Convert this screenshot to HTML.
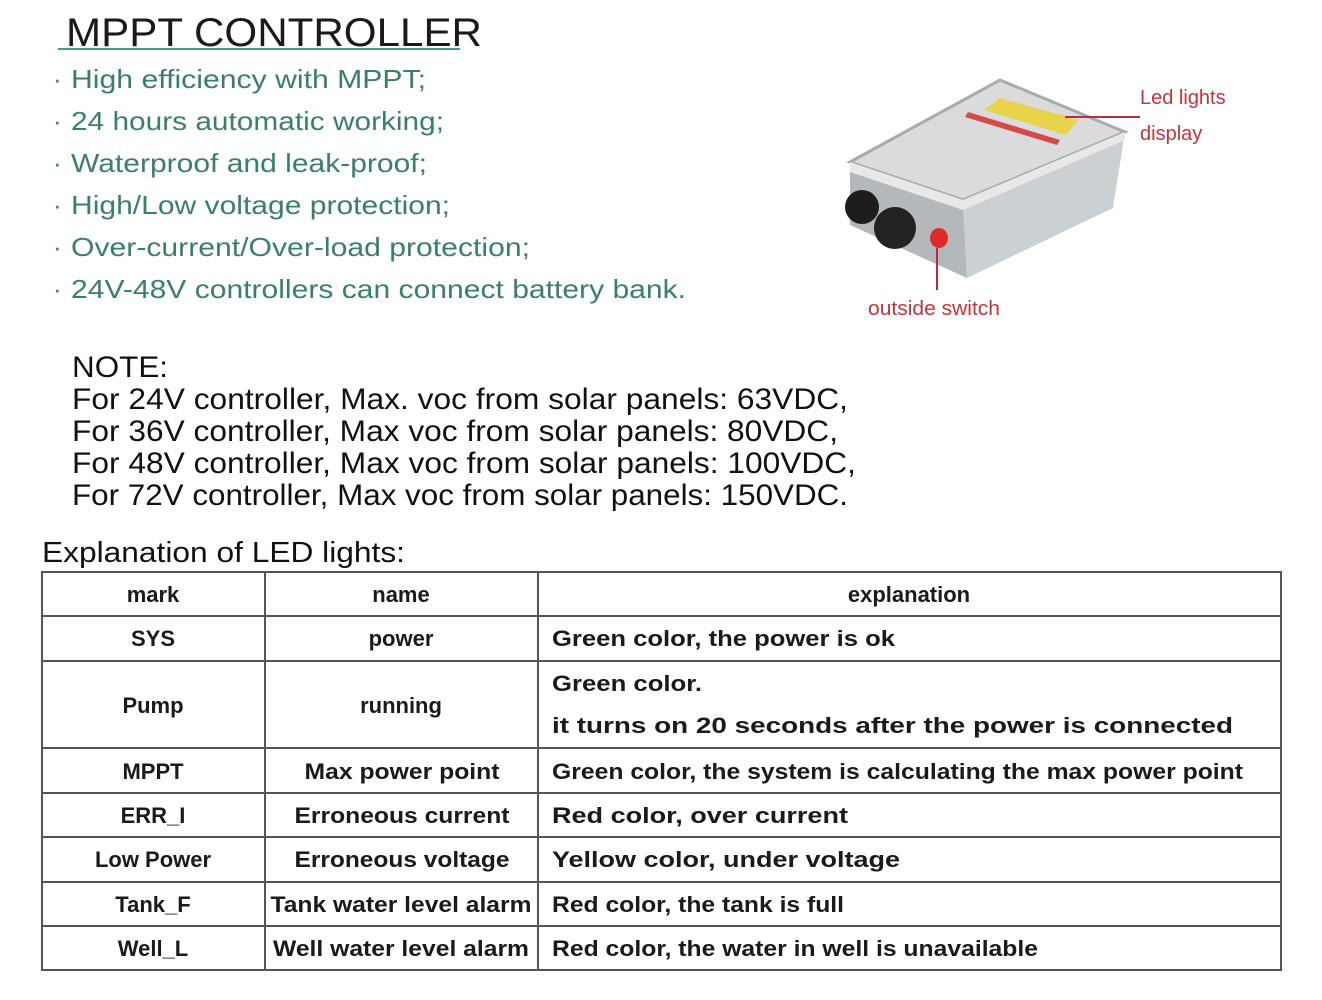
<!DOCTYPE html>
<html><head><meta charset="utf-8"><style>
html,body{margin:0;padding:0;background:#fff;}
svg{display:block;}
text{font-family:"Liberation Sans",Arial,sans-serif;}
.b{fill:#3a7f6e;font-size:26px;}
.n{fill:#111;font-size:30px;}
.t{fill:#1a1a1a;font-size:22px;font-weight:bold;}
.r{fill:#c8323a;font-size:20px;}
</style></head><body>
<svg width="1322" height="1000" viewBox="0 0 1322 1000" xmlns="http://www.w3.org/2000/svg">
<rect width="1322" height="1000" fill="#fff"/>
<text x="66" y="46" font-size="40" fill="#1a1a1a" textLength="416" lengthAdjust="spacingAndGlyphs">MPPT CONTROLLER</text>
<line x1="58" y1="49" x2="460" y2="49" stroke="#4a9a88" stroke-width="2"/>
<g class="b">
<text x="53" y="88">·</text><text x="71" y="88" textLength="355" lengthAdjust="spacingAndGlyphs">High efficiency with MPPT;</text>
<text x="53" y="130">·</text><text x="71" y="130" textLength="373" lengthAdjust="spacingAndGlyphs">24 hours automatic working;</text>
<text x="53" y="172">·</text><text x="71" y="172" textLength="356" lengthAdjust="spacingAndGlyphs">Waterproof and leak-proof;</text>
<text x="53" y="214">·</text><text x="71" y="214" textLength="379" lengthAdjust="spacingAndGlyphs">High/Low voltage protection;</text>
<text x="53" y="256">·</text><text x="71" y="256" textLength="459" lengthAdjust="spacingAndGlyphs">Over-current/Over-load protection;</text>
<text x="53" y="298">·</text><text x="71" y="298" textLength="615" lengthAdjust="spacingAndGlyphs">24V-48V controllers can connect battery bank.</text>
</g>
<!-- device -->
<polygon points="850,225 850,162 963,200 967,278" fill="#b5b8bb"/>
<polygon points="963,200 1125,132 1113,208 967,278" fill="#cdd0d3"/>
<polygon points="850,162 1000,80 1125,132 963,200" fill="#d9dbdd" stroke="#a8abae" stroke-width="3"/>
<polygon points="850,162 963,200 1125,132 1125,140 963,210 850,172" fill="#e6e8ea"/>
<polygon points="1000,98 1078,120 1066,135 984,110" fill="#e8d34a"/>
<polygon points="968,112 1060,140 1057,145 965,117" fill="#d84848"/>
<circle cx="862" cy="207" r="17" fill="#1d1d1d"/>
<circle cx="895" cy="228" r="21" fill="#222"/>
<ellipse cx="939" cy="238" rx="9" ry="10" fill="#e02a2a"/>
<text x="1140" y="104" class="r">Led lights</text>
<text x="1140" y="140" class="r">display</text>
<line x1="1065" y1="117" x2="1140" y2="117" stroke="#b03040" stroke-width="2"/>
<line x1="937" y1="248" x2="937" y2="290" stroke="#b03040" stroke-width="2"/>
<text x="868" y="315" class="r" textLength="132" lengthAdjust="spacingAndGlyphs">outside switch</text>
<g class="n">
<text x="72" y="377" textLength="96" lengthAdjust="spacingAndGlyphs">NOTE:</text>
<text x="72" y="409" textLength="776" lengthAdjust="spacingAndGlyphs">For 24V controller, Max. voc from solar panels: 63VDC,</text>
<text x="72" y="441" textLength="766" lengthAdjust="spacingAndGlyphs">For 36V controller, Max voc from solar panels: 80VDC,</text>
<text x="72" y="473" textLength="784" lengthAdjust="spacingAndGlyphs">For 48V controller, Max voc from solar panels: 100VDC,</text>
<text x="72" y="505" textLength="776" lengthAdjust="spacingAndGlyphs">For 72V controller, Max voc from solar panels: 150VDC.</text>
<text x="42" y="562" font-size="29" textLength="363" lengthAdjust="spacingAndGlyphs">Explanation of LED lights:</text>
</g>
<g stroke="#555" stroke-width="2" fill="none">
<rect x="42" y="572" width="1239" height="398"/>
<line x1="265" y1="572" x2="265" y2="970"/>
<line x1="538" y1="572" x2="538" y2="970"/>
<line x1="42" y1="616" x2="1281" y2="616"/>
<line x1="42" y1="661" x2="1281" y2="661"/>
<line x1="42" y1="748" x2="1281" y2="748"/>
<line x1="42" y1="793" x2="1281" y2="793"/>
<line x1="42" y1="837" x2="1281" y2="837"/>
<line x1="42" y1="882" x2="1281" y2="882"/>
<line x1="42" y1="926" x2="1281" y2="926"/>
</g>
<g class="t" text-anchor="middle">
<text x="153" y="602">mark</text><text x="401" y="602">name</text><text x="909" y="602">explanation</text>
<text x="153" y="646">SYS</text><text x="401" y="646">power</text>
<text x="153" y="713">Pump</text><text x="401" y="713">running</text>
<text x="153" y="779">MPPT</text><text x="402" y="779" textLength="195" lengthAdjust="spacingAndGlyphs">Max power point</text>
<text x="153" y="823">ERR_I</text><text x="402" y="823" textLength="215" lengthAdjust="spacingAndGlyphs">Erroneous current</text>
<text x="153" y="867">Low Power</text><text x="402" y="867" textLength="215" lengthAdjust="spacingAndGlyphs">Erroneous voltage</text>
<text x="153" y="912">Tank_F</text><text x="401" y="912" textLength="261" lengthAdjust="spacingAndGlyphs">Tank water level alarm</text>
<text x="153" y="956">Well_L</text><text x="401" y="956" textLength="256" lengthAdjust="spacingAndGlyphs">Well water level alarm</text>
</g>
<g class="t">
<text x="552" y="646" textLength="343" lengthAdjust="spacingAndGlyphs">Green color,  the power is ok</text>
<text x="552" y="691" textLength="150" lengthAdjust="spacingAndGlyphs">Green  color.</text>
<text x="552" y="733" textLength="681" lengthAdjust="spacingAndGlyphs">it turns on 20 seconds after the power is connected</text>
<text x="552" y="779" textLength="691" lengthAdjust="spacingAndGlyphs">Green color, the system is calculating the max power point</text>
<text x="552" y="823" textLength="296" lengthAdjust="spacingAndGlyphs">Red color,    over current</text>
<text x="552" y="867" textLength="348" lengthAdjust="spacingAndGlyphs">Yellow color,    under voltage</text>
<text x="552" y="912" textLength="292" lengthAdjust="spacingAndGlyphs">Red color, the tank is full</text>
<text x="552" y="956" textLength="486" lengthAdjust="spacingAndGlyphs">Red color, the water in well is unavailable</text>
</g>
</svg>
</body></html>
